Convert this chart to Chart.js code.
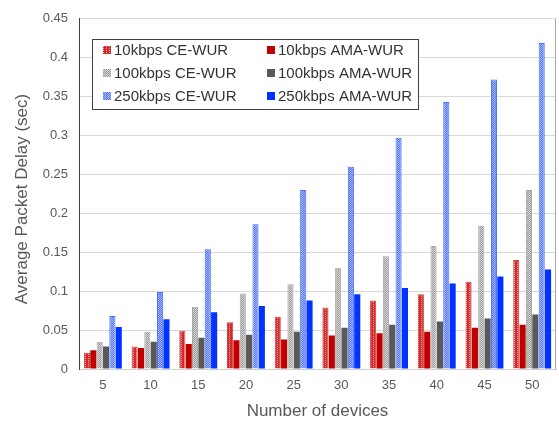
<!DOCTYPE html>
<html>
<head>
<meta charset="utf-8">
<script src="https://cdn.jsdelivr.net/npm/chart.js@4/dist/chart.umd.min.js"></script>
<style>
  body { margin: 0; background: #fff; }
  #wrap { width: 559px; height: 423px; }
</style>
</head>
<body>
<div id="wrap"><canvas id="graph" width="559" height="423"></canvas></div>
<script>
const devices = ['5', '10', '15', '20', '25', '30', '35', '40', '45', '50'];
const ce10   = [0.021, 0.029, 0.049, 0.060, 0.067, 0.079, 0.088, 0.096, 0.112, 0.140];
const ama10  = [0.024, 0.027, 0.032, 0.037, 0.038, 0.043, 0.046, 0.048, 0.053, 0.057];
const ce100  = [0.035, 0.048, 0.080, 0.097, 0.109, 0.130, 0.145, 0.158, 0.184, 0.230];
const ama100 = [0.029, 0.035, 0.040, 0.044, 0.048, 0.053, 0.057, 0.061, 0.065, 0.070];
const ce250  = [0.068, 0.099, 0.154, 0.186, 0.230, 0.260, 0.297, 0.343, 0.372, 0.419];
const ama250 = [0.054, 0.064, 0.073, 0.081, 0.088, 0.096, 0.104, 0.110, 0.119, 0.128];
const yTicks = [0, 0.05, 0.1, 0.15, 0.2, 0.25, 0.3, 0.35, 0.4, 0.45];

const FONT = "'Liberation Sans', Arial, sans-serif";

// small tiles for the hatched CE-WUR bars
function makePattern(w, h, bg, fg, cells) {
    const c = document.createElement('canvas');
    c.width = w; c.height = h;
    const g = c.getContext('2d');
    g.fillStyle = bg;
    g.fillRect(0, 0, w, h);
    g.fillStyle = fg;
    cells.forEach(p => g.fillRect(p[0], p[1], 1, 1));
    return g.createPattern(c, 'repeat');
}

const ctx = document.getElementById('graph').getContext('2d');
const redHatch  = makePattern(3, 2, '#d42a2a', '#f2a6a6', [[1, 0]]);
const grayHatch = makePattern(2, 2, '#9a9a9a', '#d6d6d6', [[0, 0], [1, 1]]);
const blueHatch = makePattern(2, 2, '#4f72ff', '#a9bbff', [[0, 0], [1, 1]]);

const series = [
    { label: '10kbps CE-WUR',   data: ce10,   backgroundColor: redHatch,  borderColor: '#d64040', borderWidth: 1 },
    { label: '10kbps AMA-WUR',  data: ama10,  backgroundColor: '#c00000', borderColor: '#c00000', borderWidth: 0 },
    { label: '100kbps CE-WUR',  data: ce100,  backgroundColor: grayHatch, borderColor: '#a6a6a6', borderWidth: 1 },
    { label: '100kbps AMA-WUR', data: ama100, backgroundColor: '#595959', borderColor: '#595959', borderWidth: 0 },
    { label: '250kbps CE-WUR',  data: ce250,  backgroundColor: blueHatch, borderColor: '#4d6bff', borderWidth: 1 },
    { label: '250kbps AMA-WUR', data: ama250, backgroundColor: '#0033ff', borderColor: '#0033ff', borderWidth: 0 }
];
const swatches = [redHatch, '#c00000', grayHatch, '#595959', blueHatch, '#0033ff'];

// legend box inside the plot + right frame line + rotated y title
const extras = {
    id: 'extras',
    afterDraw(chart) {
        const c = chart.ctx;
        const area = chart.chartArea;
        c.save();
        c.strokeStyle = '#a6a6a6';
        c.lineWidth = 1;
        c.beginPath();
        c.moveTo(area.right - 0.5, area.top);
        c.lineTo(area.right - 0.5, area.bottom);
        c.stroke();

        c.fillStyle = '#ffffff';
        c.fillRect(92, 39, 326, 70);
        c.strokeStyle = '#404040';
        c.strokeRect(92.5, 39.5, 326, 70);

        c.font = '15px ' + FONT;
        c.textBaseline = 'middle';
        const cols = [103, 267];
        const rows = [50, 73, 96];
        chart.data.datasets.forEach((ds, i) => {
            const x = cols[i % 2];
            const y = rows[Math.floor(i / 2)];
            c.fillStyle = swatches[i];
            c.fillRect(x, y - 4, 8, 8);
            c.fillStyle = '#333333';
            c.fillText(ds.label, x + 11, y + 1);
        });

        c.translate(22, 199);
        c.rotate(-Math.PI / 2);
        c.textAlign = 'center';
        c.font = '17px ' + FONT;
        c.fillStyle = '#595959';
        c.fillText('Average Packet Delay (sec)', 0, 0);
        c.restore();
    }
};

new Chart(ctx, {
    type: 'bar',
    data: { labels: devices, datasets: series },
    options: {
        responsive: false,
        animation: false,
        layout: { padding: { top: 12, right: 3, left: 0, bottom: 0 } },
        categoryPercentage: 0.8,
        barPercentage: 0.96,
        plugins: {
            legend: { display: false },
            tooltip: { enabled: false }
        },
        scales: {
            x: {
                grid: { display: false, drawTicks: false },
                border: { display: true, color: '#d0d0d0' },
                ticks: { color: '#595959', font: { family: FONT, size: 13 }, padding: 9 },
                title: {
                    display: true, text: 'Number of devices', color: '#595959',
                    font: { family: FONT, size: 17 }, padding: { top: 0, bottom: 1 }
                },
                afterFit(scale) { scale.height = 54; }
            },
            y: {
                min: 0,
                max: 0.45,
                afterBuildTicks(scale) { scale.ticks = yTicks.map(v => ({ value: v })); },
                grid: { color: '#d9d9d9', drawTicks: false },
                border: { display: true, color: '#404040' },
                ticks: {
                    color: '#595959', font: { family: FONT, size: 13 }, padding: 11,
                    callback: v => String(Number(v.toFixed(2)))
                },
                afterFit(scale) { scale.width = 79; }
            }
        }
    },
    plugins: [extras]
});
</script>
</body>
</html>
